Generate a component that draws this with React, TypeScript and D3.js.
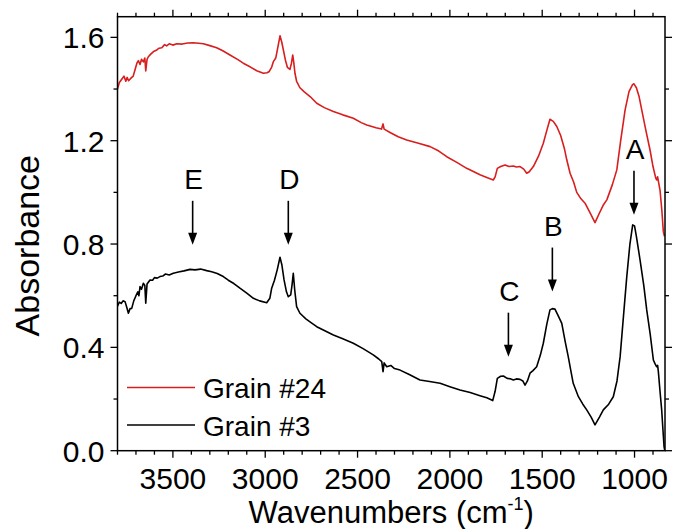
import React from "react";
import * as d3 from "d3";

// FTIR absorbance spectra of two grains: [wavenumber (cm-1), absorbance]
const grain24: [number, number][] = [
  [3800,1.40],[3790,1.425],[3775,1.44],[3765,1.45],[3755,1.43],[3748,1.445],[3740,1.432],[3730,1.44],
  [3715,1.45],[3705,1.475],[3695,1.5],[3687,1.51],[3678,1.495],[3670,1.515],[3660,1.505],[3652,1.52],
  [3647,1.47],[3640,1.515],[3633,1.525],[3620,1.535],[3605,1.545],[3590,1.55],[3575,1.558],[3560,1.56],
  [3545,1.572],[3534,1.567],[3520,1.575],[3500,1.57],[3479,1.575],[3450,1.574],[3420,1.578],[3390,1.579],
  [3360,1.577],[3335,1.575],[3300,1.568],[3263,1.56],[3230,1.548],[3191,1.532],[3150,1.515],[3119,1.5],
  [3080,1.485],[3046,1.471],[3010,1.461],[2990,1.463],[2978,1.468],[2965,1.485],[2956,1.506],[2943,1.52],
  [2932,1.56],[2920,1.606],[2910,1.58],[2902,1.552],[2890,1.51],[2880,1.484],[2866,1.476],[2858,1.5],
  [2851,1.532],[2845,1.5],[2839,1.461],[2830,1.43],[2812,1.405],[2790,1.39],[2757,1.371],[2721,1.345],
  [2680,1.328],[2631,1.313],[2580,1.3],[2523,1.287],[2480,1.27],[2450,1.261],[2400,1.25],[2370,1.245],
  [2362,1.265],[2356,1.245],[2324,1.232],[2280,1.215],[2234,1.203],[2170,1.19],[2107,1.177],[2060,1.16],
  [2017,1.138],[1960,1.115],[1909,1.093],[1870,1.08],[1837,1.068],[1800,1.058],[1765,1.048],[1755,1.06],
  [1743,1.093],[1725,1.1],[1701,1.106],[1680,1.1],[1656,1.102],[1640,1.098],[1620,1.1],[1600,1.09],
  [1584,1.074],[1570,1.08],[1548,1.1],[1520,1.14],[1494,1.19],[1475,1.24],[1458,1.283],[1440,1.275],
  [1421,1.255],[1400,1.22],[1380,1.17],[1367,1.126],[1349,1.074],[1330,1.04],[1313,1.0],[1290,0.975],
  [1268,0.958],[1240,0.92],[1214,0.883],[1190,0.92],[1170,0.95],[1150,0.971],[1120,1.03],[1096,1.087],
  [1075,1.2],[1051,1.319],[1030,1.39],[1010,1.418],[1003,1.42],[990,1.405],[975,1.37],[961,1.319],
  [940,1.245],[916,1.164],[900,1.1],[885,1.055],[880,1.048],[875,1.06],[870,1.04],[862,1.009],
  [852,0.93],[844,0.848],[838,0.83],
];

const grain3: [number, number][] = [
  [3800,0.56],[3790,0.575],[3780,0.57],[3770,0.58],[3759,0.577],[3750,0.555],[3741,0.532],[3732,0.55],
  [3723,0.551],[3712,0.58],[3700,0.6],[3690,0.615],[3684,0.6],[3678,0.635],[3670,0.625],[3660,0.648],
  [3652,0.64],[3647,0.571],[3640,0.645],[3630,0.655],[3624,0.661],[3610,0.66],[3600,0.67],[3585,0.668],
  [3570,0.674],[3555,0.676],[3540,0.684],[3520,0.68],[3498,0.687],[3470,0.692],[3440,0.696],[3407,0.702],
  [3380,0.7],[3350,0.703],[3317,0.697],[3290,0.693],[3260,0.686],[3227,0.674],[3200,0.66],[3170,0.647],
  [3137,0.629],[3100,0.61],[3064,0.59],[3030,0.58],[2992,0.573],[2975,0.59],[2965,0.629],[2950,0.66],
  [2935,0.7],[2920,0.749],[2910,0.72],[2898,0.661],[2885,0.615],[2875,0.596],[2862,0.603],[2855,0.64],
  [2848,0.687],[2840,0.62],[2830,0.558],[2812,0.532],[2780,0.51],[2750,0.495],[2721,0.48],[2680,0.465],
  [2631,0.448],[2580,0.433],[2523,0.416],[2470,0.395],[2415,0.371],[2385,0.355],[2369,0.345],[2362,0.306],
  [2356,0.34],[2342,0.325],[2320,0.33],[2300,0.318],[2270,0.312],[2220,0.295],[2162,0.274],[2110,0.268],
  [2053,0.261],[2000,0.248],[1945,0.235],[1890,0.225],[1837,0.213],[1800,0.205],[1768,0.194],[1755,0.23],
  [1743,0.28],[1725,0.288],[1710,0.289],[1690,0.28],[1670,0.278],[1656,0.274],[1640,0.278],[1620,0.276],
  [1605,0.27],[1593,0.254],[1580,0.27],[1566,0.3],[1550,0.31],[1530,0.325],[1510,0.37],[1494,0.416],
  [1475,0.49],[1458,0.545],[1445,0.55],[1431,0.548],[1415,0.525],[1394,0.493],[1375,0.42],[1359,0.364],
  [1345,0.31],[1332,0.261],[1304,0.209],[1280,0.18],[1259,0.158],[1235,0.13],[1214,0.1],[1190,0.13],
  [1169,0.158],[1140,0.18],[1115,0.209],[1095,0.27],[1078,0.364],[1060,0.52],[1042,0.674],[1025,0.8],
  [1010,0.874],[1000,0.87],[990,0.83],[970,0.738],[950,0.64],[934,0.545],[915,0.45],[898,0.351],
  [888,0.335],[880,0.325],[875,0.33],[871,0.306],[862,0.23],[853,0.158],[846,0.08],[840,0.015],[836,0.0],
];

// Band markers: label, wavenumber, absorbance at arrow tip
const bandLabels = ["A", "B", "C", "D", "E"];
const bandWavenumbers = [1003, 1445, 1683, 2875, 3393];
const bandTips = [0.913, 0.616, 0.364, 0.797, 0.797];

const xMajorTicks = [3500, 3000, 2500, 2000, 1500, 1000];
const yMajorTicks = [0.0, 0.4, 0.8, 1.2, 1.6];

const seriesNames = ["Grain #24", "Grain #3"];
const seriesColors = ["#d81e1e", "#000000"];

const W = 674;
const H = 529;
const m = { left: 117.5, right: 665, top: 16.7, bottom: 450.7 };
const FONT = "'Liberation Sans', Arial, Helvetica, sans-serif";

export default function App() {
  const x = d3.scaleLinear().domain([3800, 835]).range([m.left, m.right]);
  const y = d3.scaleLinear().domain([0, 1.68]).range([m.bottom, m.top]);

  const line = d3
    .line<[number, number]>()
    .x((d) => x(d[0]))
    .y((d) => y(d[1]));

  const xMinor = d3.range(3800, 835, -100).filter((v) => v % 500 !== 0);
  const yMinor = d3.range(0.2, 1.68, 0.4);

  const MAJ = 7;
  const MIN = 4;
  const arrowLen = 44;

  return (
    <svg
      width={W}
      height={H}
      style={{ position: "absolute", left: 0, top: 0, background: "#fff" }}
      fontFamily={FONT}
    >
      <rect width={W} height={H} fill="#fff" />
      <defs>
        <clipPath id="plot-area">
          <rect x={m.left} y={m.top} width={m.right - m.left} height={m.bottom - m.top + 1} />
        </clipPath>
      </defs>

      {/* spectra */}
      <g clipPath="url(#plot-area)" fill="none" strokeWidth={1.6} strokeLinejoin="round">
        <path d={line(grain24) ?? ""} stroke={seriesColors[0]} />
        <path d={line(grain3) ?? ""} stroke={seriesColors[1]} />
      </g>

      {/* frame */}
      <rect
        x={m.left}
        y={m.top}
        width={m.right - m.left}
        height={m.bottom - m.top}
        fill="none"
        stroke="#000"
        strokeWidth={1.5}
      />

      {/* ticks on all four sides, pointing outward */}
      <g stroke="#000" strokeWidth={1.3}>
        {xMajorTicks.map((v) => (
          <g key={"xM" + v}>
            <line x1={x(v)} x2={x(v)} y1={m.bottom} y2={m.bottom + MAJ} />
            <line x1={x(v)} x2={x(v)} y1={m.top} y2={m.top - MAJ} />
          </g>
        ))}
        {xMinor.map((v) => (
          <g key={"xm" + v}>
            <line x1={x(v)} x2={x(v)} y1={m.bottom} y2={m.bottom + MIN} />
            <line x1={x(v)} x2={x(v)} y1={m.top} y2={m.top - MIN} />
          </g>
        ))}
        {yMajorTicks.map((v) => (
          <g key={"yM" + v}>
            <line x1={m.left} x2={m.left - MAJ} y1={y(v)} y2={y(v)} />
            <line x1={m.right} x2={m.right + MAJ} y1={y(v)} y2={y(v)} />
          </g>
        ))}
        {yMinor.map((v) => (
          <g key={"ym" + v}>
            <line x1={m.left} x2={m.left - MIN} y1={y(v)} y2={y(v)} />
            <line x1={m.right} x2={m.right + MIN} y1={y(v)} y2={y(v)} />
          </g>
        ))}
      </g>

      {/* tick labels */}
      <g fontSize={30} fill="#000">
        {xMajorTicks.map((v) => (
          <text key={"xl" + v} x={x(v)} y={m.bottom + 38} textAnchor="middle">
            {v}
          </text>
        ))}
        {yMajorTicks.map((v) => (
          <text
            key={"yl" + v}
            x={m.left - 13}
            y={y(v)}
            dy="0.36em"
            textAnchor="end"
          >
            {v.toFixed(1)}
          </text>
        ))}
      </g>

      {/* axis titles */}
      <text
        x={(m.left + m.right) / 2}
        y={523}
        textAnchor="middle"
        fontSize={31}
        fill="#000"
      >
        Wavenumbers (cm
        <tspan fontSize={18} dy={-13}>-1</tspan>
        <tspan dy={13}>)</tspan>
      </text>
      <text
        transform={`translate(39, ${(m.top + m.bottom) / 2 + 12}) rotate(-90)`}
        textAnchor="middle"
        fontSize={34}
        fill="#000"
      >
        Absorbance
      </text>

      {/* band markers */}
      <g>
        {bandLabels.map((lab, i) => {
          const px = x(bandWavenumbers[i]);
          const tip = y(bandTips[i]);
          return (
            <g key={lab}>
              <line x1={px} x2={px} y1={tip - arrowLen} y2={tip - 10} stroke="#000" strokeWidth={1.6} />
              <path d={`M${px - 4.5},${tip - 12} L${px + 4.5},${tip - 12} L${px},${tip} Z`} fill="#000" />
              <text x={px + 1} y={tip - arrowLen - 12} textAnchor="middle" fontSize={28} fill="#000">
                {lab}
              </text>
            </g>
          );
        })}
      </g>

      {/* legend */}
      <g fontSize={28} fill="#000">
        {seriesNames.map((name, i) => {
          const ly = 387.5 + i * 37.5;
          return (
            <g key={name}>
              <line x1={127} x2={195} y1={ly} y2={ly} stroke={seriesColors[i]} strokeWidth={1.6} />
              <text x={203} y={ly + 10.5}>
                {name}
              </text>
            </g>
          );
        })}
      </g>
    </svg>
  );
}
